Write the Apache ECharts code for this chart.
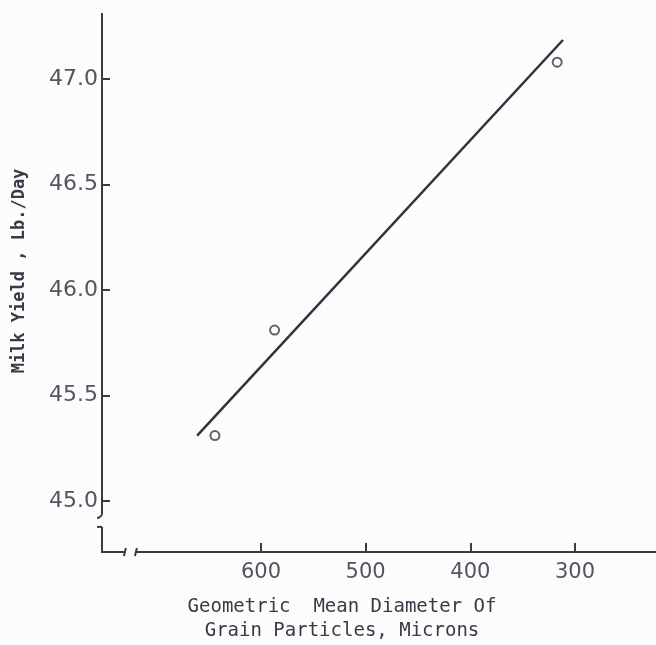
<!DOCTYPE html>
<html><head><meta charset="utf-8">
<script src="https://cdn.jsdelivr.net/npm/echarts@6/dist/echarts.min.js"></script>
<style>html,body{margin:0;padding:0;background:#fcfcfc}#c{width:656px;height:645px}</style>
</head><body><div id="c"></div>
<script>
// Data
const xTicks = [600, 500, 400, 300];
const yTicks = [45.0, 45.5, 46.0, 46.5, 47.0];
const diameter = [644, 587, 317];          // microns
const milkYield = [45.31, 45.81, 47.08];   // lb/day
const fitX = [661, 311.5];
const fitY = [45.31, 47.185];
const yTitle = 'Milk Yield , Lb./Day';
const xTitle = ['Geometric  Mean Diameter Of', 'Grain Particles, Microns'];

(function () {
const ink = '#363b46';
const txt = '#505560';
const mono = '"DejaVu Sans Mono", monospace';
const sans = '"DejaVu Sans", sans-serif';

const chart = echarts.init(document.getElementById('c'), null, {renderer: 'canvas'});
chart.setOption({
  backgroundColor: '#fcfcfc',
  animation: false,
  grid: {left: 102, top: 13, right: 0, bottom: 93, containLabel: false},
  xAxis: {
    type: 'value', inverse: true, min: 222.6, max: 751.9,
    axisLine: {show: false},
    splitLine: {show: false},
    axisTick: {show: true, inside: true, length: 9, customValues: xTicks, lineStyle: {color: ink, width: 2}},
    axisLabel: {customValues: xTicks, margin: 10, color: txt, fontFamily: sans, fontSize: 21}
  },
  yAxis: {
    type: 'value', min: 44.758, max: 47.313,
    axisLine: {show: false},
    splitLine: {show: false},
    axisTick: {show: true, inside: true, length: 8, customValues: yTicks, lineStyle: {color: ink, width: 2}},
    axisLabel: {customValues: yTicks, margin: 4, color: txt, fontFamily: sans, fontSize: 22,
      formatter: v => v.toFixed(1)}
  },
  series: [
    {type: 'line', data: fitX.map((x, i) => [x, fitY[i]]), symbol: 'none',
     lineStyle: {color: '#2e333d', width: 2.5}, z: 2},
    {type: 'scatter', data: diameter.map((x, i) => [x, milkYield[i]]), symbol: 'circle', symbolSize: 9,
     itemStyle: {color: '#fcfcfc', borderColor: ink, borderWidth: 2}, z: 3}
  ]
});

const P = (x, y) => chart.convertToPixel({gridIndex: 0}, [x, y]);
const topPt = P(600, 47.313), corner = P(751.9, 44.758), rightPt = P(222.6, 44.758);
const yBrkA = P(751.9, 44.934)[1], yBrkB = P(751.9, 44.877)[1];
const xBrkA = P(730, 44.758)[0], xBrkB = P(719.5, 44.758)[0];
const ax = corner[0], ay = corner[1];
const ls = {stroke: ink, lineWidth: 2, fill: null};
chart.setOption({
  graphic: [
    {type: 'polyline', shape: {points: [[ax, topPt[1]], [ax, yBrkA]]}, style: ls},
    {type: 'polyline', shape: {points: [[ax, yBrkA], [ax - 3, yBrkA + 3], [ax - 5, yBrkA + 3]]}, style: ls},
    {type: 'polyline', shape: {points: [[ax - 5, yBrkB], [ax, yBrkB]]}, style: ls},
    {type: 'polyline', shape: {points: [[ax, yBrkB], [ax, ay], [xBrkA, ay]]}, style: ls},
    {type: 'polyline', shape: {points: [[xBrkA - 1, ay + 4], [xBrkA + 1, ay - 4]]}, style: ls},
    {type: 'polyline', shape: {points: [[xBrkB - 1, ay + 4], [xBrkB + 1, ay - 4]]}, style: ls},
    {type: 'polyline', shape: {points: [[xBrkB, ay], [rightPt[0], ay]]}, style: ls},
    {type: 'text', x: 20, y: 271, rotation: Math.PI / 2,
      style: {text: yTitle, align: 'center', verticalAlign: 'middle', fill: ink, font: 'bold 17px ' + mono}},
    {type: 'text', x: 342, y: 598, style: {text: xTitle[0], align: 'center', verticalAlign: 'top',
      fill: ink, font: '19px ' + mono}},
    {type: 'text', x: 342, y: 622, style: {text: xTitle[1], align: 'center', verticalAlign: 'top',
      fill: ink, font: '19px ' + mono}}
  ]
});
})();
</script></body></html>
